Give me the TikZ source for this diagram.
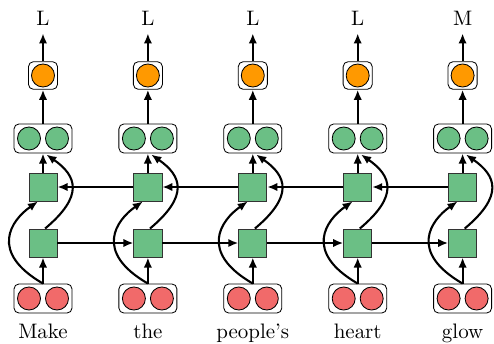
\documentclass[tikz,border=0pt]{standalone}
\usetikzlibrary{arrows.meta}
\definecolor{gcol}{RGB}{107,191,133}
\definecolor{rcol}{RGB}{241,106,106}
\definecolor{ocol}{RGB}{255,153,0}
\tikzset{
  circ/.style={circle,draw,line width=0.4pt,minimum size=11pt,inner sep=0pt},
  gcirc/.style={circ,fill=gcol},
  rcirc/.style={circ,fill=rcol},
  ocirc/.style={circ,fill=ocol},
  sqbox/.style={rectangle,draw=black!80,line width=0.4pt,fill=gcol,minimum size=13.4pt,inner sep=0pt},
  pairbox/.style={rectangle,rounded corners=2.4pt,draw,fill=white,line width=0.4pt,minimum width=27.7pt,minimum height=13.9pt,inner sep=0pt},
  onebox/.style={rectangle,rounded corners=2.4pt,draw,fill=white,line width=0.4pt,minimum width=13.9pt,minimum height=13.2pt,inner sep=0pt},
  arr/.style={-{Latex[length=4.8pt,width=4pt]},line width=1pt},
  toplab/.style={anchor=base,inner sep=3.8pt},
  word/.style={anchor=base,inner sep=0pt}
}
\begin{document}
\begin{tikzpicture}[x=0.4775pt,y=0.4775pt]
\useasboundingbox (0,0) rectangle (494,-343);
\foreach \i/\lab/\w in {1/L/Make,2/L/the,3/L/people's,4/L/heart,5/M/glow}{
  \pgfmathsetmacro{\X}{43+104.9*(\i-1)}
  \node[toplab] (lab\i) at (\X,-25) {\lab};
  \node[onebox] (o\i) at (\X,-75.5) {};
  \node[ocirc] (oc\i) at (\X,-75.5) {};
  \node[pairbox] (g\i) at (\X,-138.5) {};
  \node[gcirc] (ga\i) at (\X-14,-138.5) {};
  \node[gcirc] (gb\i) at (\X+14,-138.5) {};
  \node[sqbox] (b\i) at (\X,-187) {};
  \node[sqbox] (f\i) at (\X,-243) {};
  \node[pairbox] (r\i) at (\X,-298.5) {};
  \node[rcirc] (ra\i) at (\X-14,-298.5) {};
  \node[rcirc] (rb\i) at (\X+14,-298.5) {};
  \node[word] (w\i) at (\X,-338) {\w};
  \draw[arr] (o\i.north) -- (lab\i.south);
  \draw[arr] (g\i.north) -- (o\i.south);
  \draw[arr] (b\i.north) -- (g\i.south);
  \draw[arr] (r\i.north) -- (f\i.south);
  \draw[arr] ([xshift=1pt]f\i.north) to[out=40,in=-35,out distance=24.4pt,in distance=17.8pt] ([xshift=1.6pt,yshift=-0.5pt]g\i.south);
  \draw[arr] (r\i.north) to[out=150,in=-145,out distance=30pt,in distance=15.7pt] ([xshift=-2.4pt]b\i.south);
}
\foreach \i/\j in {1/2,2/3,3/4,4/5}{
  \draw[arr] (f\i.east) -- (f\j.west);
  \draw[arr] (b\j.west) -- (b\i.east);
}
\end{tikzpicture}
\end{document}
